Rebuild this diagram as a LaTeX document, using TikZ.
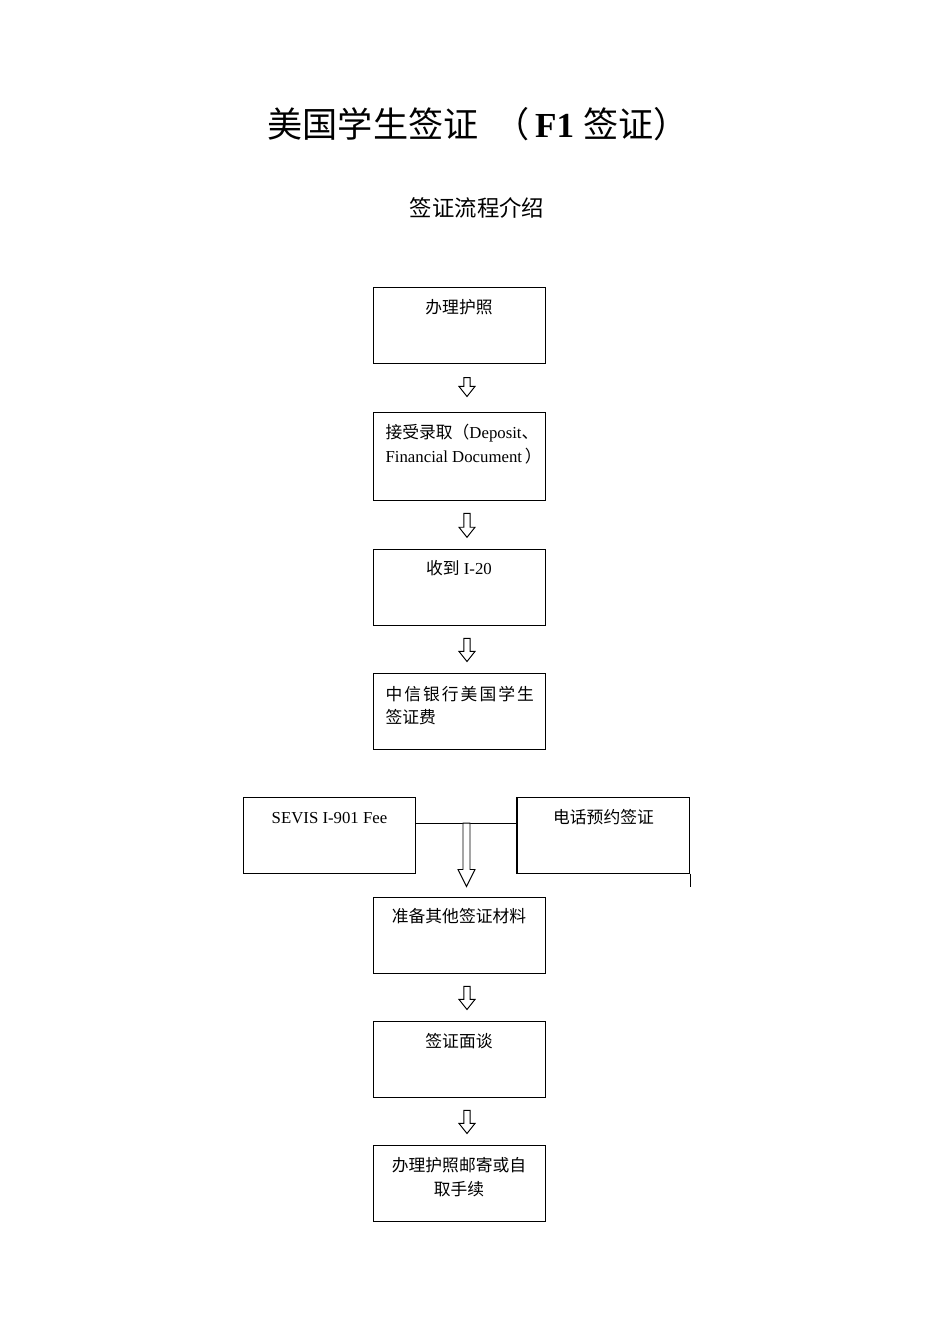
\documentclass[tikz,border=0pt]{standalone}
\usepackage{fontspec}
\setmainfont{Liberation Serif}
\newfontfamily\cjk{Noto Sans CJK SC}
\usetikzlibrary{positioning,calc}
\tikzset{
  box/.style={draw=black,line width=0.6pt,minimum width=107.7pt,minimum height=47pt,inner sep=0pt},
  boxtext/.style={inner sep=0pt,align=#1,font=\fontsize{10.5}{15}\selectfont},
  boxtext/.default=center,
  zh/.style={font=\fontsize{10.5}{15}\selectfont\cjk},
  % hollow block arrow: half shaft, half head, head length
  hollow/.style n args={3}{draw=black,line width=0.6pt,fill=white,to path={
    let \p1=(\tikztostart),\p2=(\tikztotarget) in
    (\x1-#1,\y1) -- (\x1-#1,\y2+#3) -- (\x1-#2,\y2+#3) -- (\x1,\y2)
    -- (\x1+#2,\y2+#3) -- (\x1+#1,\y2+#3) -- (\x1+#1,\y1) -- cycle}},
  step arrow/.style={hollow={1.9pt}{5pt}{6.3pt}},
}

\begin{document}
\begin{tikzpicture}[x=0.626pt,y=-0.626pt]
  \useasboundingbox (0,0) rectangle (950,1344);

  % titles
  \node[inner sep=0pt,font=\fontsize{22}{26}\selectfont] (title) at (478,124)
    {{\cjk 美国学生签证\ \ （}\,\textbf{F1} {\cjk 签证）}};
  \node[inner sep=0pt,font=\fontsize{14}{17}\selectfont\cjk] (subtitle) at (477,208) {签证流程介绍};

  % main column
  \node[box] (passport) at (459,325.5) {};
  \node[box,minimum height=55.1pt] (admit) at (459,456) {};
  \node[box,minimum height=47.6pt] (itwenty) at (459,587) {};
  \node[box] (bank) at (459,711.5) {};
  \node[box] (sevis) at (329.5,835.5) {};
  \node[box] (phone) at (603.5,835.5) {};
  \node[box,minimum height=47.6pt] (prepare) at (459,935) {};
  \node[box] (interview) at (459,1059.5) {};
  \node[box] (pickup) at (459,1183.5) {};

  % box texts
  \node[boxtext,zh,below=7.5pt of passport.north] {办理护照};
  \node[boxtext=left,below right=8pt and 8pt of admit.north west]
    {{\cjk 接受录取（}Deposit{\cjk 、}\\Financial Document{\cjk \,）}};
  \node[boxtext,below=7.5pt of itwenty.north] {{\cjk 收到} I-20};
  \node[boxtext=left,zh,below right=7.5pt and 8pt of bank.north west]
    {\addfontfeatures{LetterSpace=12}中信银行美国学生\\签证费};
  \node[boxtext,below=9pt of sevis.north] {SEVIS I-901 Fee};
  \node[boxtext,zh,below=7.5pt of phone.north] {电话预约签证};
  \node[boxtext,zh,below=7.5pt of prepare.north] {准备其他签证材料};
  \node[boxtext,zh,below=7.5pt of interview.north] {签证面谈};
  \node[boxtext,zh,below=7.5pt of pickup.north] {办理护照邮寄或自\\取手续};

  % connectors
  \draw[step arrow] ([xshift=5pt,yshift=-8.8pt]passport.south) to ([xshift=5pt,yshift=9.4pt]admit.north);
  \draw[step arrow] ([xshift=5pt,yshift=-8pt]admit.south) to ([xshift=5pt,yshift=7pt]itwenty.north);
  \draw[step arrow] ([xshift=5pt,yshift=-8pt]itwenty.south) to ([xshift=5pt,yshift=7.5pt]bank.north);
  \draw[line width=0.6pt] ([yshift=7.8pt]sevis.east) -- ([yshift=7.8pt]phone.west);
  \coordinate (join) at ($([yshift=7.8pt]sevis.east)!0.5!([yshift=7.8pt]phone.west)$);
  \draw[hollow={2.2pt}{5.3pt}{10.6pt}] (join) to ([xshift=4.7pt,yshift=6.3pt]prepare.north);
  \draw[step arrow] ([xshift=5pt,yshift=-8pt]prepare.south) to ([xshift=5pt,yshift=7.5pt]interview.north);
  \draw[step arrow] ([xshift=5pt,yshift=-8pt]interview.south) to ([xshift=5pt,yshift=7.5pt]pickup.north);
  \draw[line width=1.2pt] (phone.north west) -- (phone.south west);
  \draw[line width=0.6pt] (phone.south east) -- ++(0,13);
\end{tikzpicture}
\end{document}
